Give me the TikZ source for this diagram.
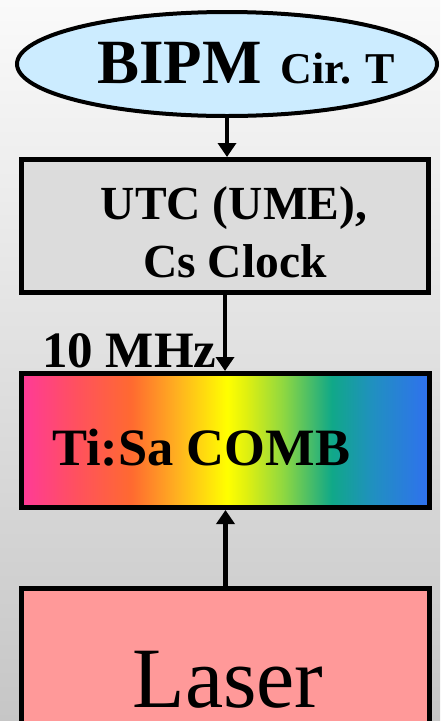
\documentclass[tikz,border=0pt]{standalone}
\usepackage{fontspec}
\setmainfont{Liberation Serif}
\usetikzlibrary{shapes.geometric,arrows.meta}
\definecolor{bgtop}{HTML}{FAFAFA}
\definecolor{bgbot}{HTML}{C6C6C6}
\definecolor{ellblue}{HTML}{CCECFF}
\definecolor{utcgray}{HTML}{DCDCDC}
\definecolor{laserpink}{HTML}{FF9999}
\definecolor{cA}{HTML}{FF3A98}
\definecolor{cB}{HTML}{FF5060}
\definecolor{cC}{HTML}{FF6A30}
\definecolor{cD}{HTML}{FFB020}
\definecolor{cE}{HTML}{FFFF00}
\definecolor{cF}{HTML}{E0F010}
\definecolor{cG}{HTML}{90D840}
\definecolor{cH}{HTML}{10A888}
\definecolor{cI}{HTML}{2090C0}
\definecolor{cJ}{HTML}{3070F0}
\pgfdeclarehorizontalshading{combshade}{100bp}{color(0bp)=(cA); color(25bp)=(cA); color(31.5bp)=(cB); color(38.5bp)=(cC); color(44bp)=(cD); color(50.2bp)=(cE); color(52.5bp)=(cF); color(57bp)=(cG); color(63bp)=(cH); color(68bp)=(cI); color(75bp)=(cJ); color(100bp)=(cJ)}
\begin{document}
\begin{tikzpicture}[x=1pt,y=-1pt,
  box/.style={draw=black, line width=5pt, rectangle, inner sep=0pt},
  lbl/.style={inner sep=0pt, anchor=base, text=black},
  conn/.style={draw=black, line width=4.5pt, -{Triangle[length=14pt,width=18pt]}}]
\useasboundingbox (0,0) rectangle (440,721);
\clip (0,0) rectangle (440,721);
\fill[top color=bgtop, bottom color=bgbot] (0,0) rectangle (440,721);

\node[ellipse, draw=black, line width=4pt, fill=ellblue, minimum width=420pt, minimum height=104pt, inner sep=0pt] (bipm) at (227,64) {};
\node[lbl, anchor=base west] (bipmtext) at (97,83) {\fontsize{63}{63}\selectfont\bfseries BIPM\hspace{19pt}{\fontsize{44}{44}\selectfont Cir. T}};

\node[box, fill=utcgray, minimum width=407pt, minimum height=133pt] (utc) at (225,226) {};
\node[lbl] (utc1) at (234,219) {\fontsize{47.5}{47.5}\selectfont\bfseries UTC (UME),};
\node[lbl] (utc2) at (235,277) {\fontsize{47.5}{47.5}\selectfont\bfseries Cs Clock};

\node[box, shade, shading=combshade, minimum width=408pt, minimum height=134pt] (comb) at (225.5,440.5) {};
\node[lbl, anchor=base west] (combtext) at (52,465) {\fontsize{52.5}{52.5}\selectfont\bfseries Ti:Sa COMB};

\node[lbl, anchor=base west] (mhz) at (42,367) {\fontsize{51}{51}\selectfont\bfseries 10 MHz};

\node[box, fill=laserpink, minimum width=408pt, minimum height=200pt, anchor=north] (laser) at (225.5,586) {};
\node[lbl] (lasertext) at (228,707) {\fontsize{86}{86}\selectfont Laser};

\draw[conn] (bipm.south) -- (bipm.south |- utc.north);
\draw[conn] (utc.south) -- (utc.south |- comb.north);
\draw[conn] (laser.north) -- (laser.north |- comb.south);
\end{tikzpicture}
\end{document}
